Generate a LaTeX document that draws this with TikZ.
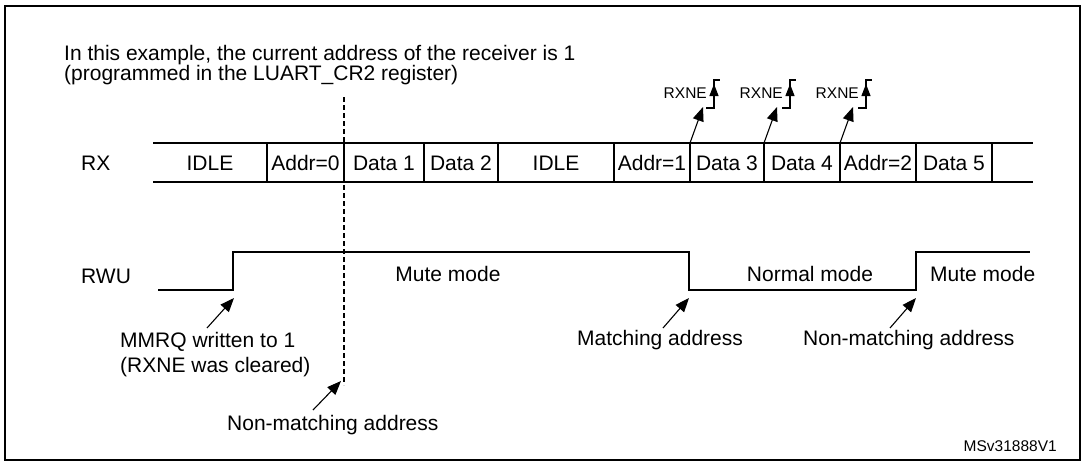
\documentclass[tikz,border=0pt]{standalone}
\usepackage{fontspec}
\setmainfont{Liberation Sans}
\usetikzlibrary{arrows.meta}
\begin{document}
\begin{tikzpicture}[x=1pt,y=-1pt,
  sig/.style={line width=1.3pt},
  arr/.style={line width=1.1pt,-{Triangle[length=14pt,width=11pt]}},
  lbl/.style={font=\fontsize{21}{25}\selectfont,inner sep=0pt},
  sml/.style={font=\fontsize{15.5}{18}\selectfont,inner sep=0pt}]
\useasboundingbox (0,0) rectangle (1085,464);
\draw[line width=2pt] (5,6) rectangle (1080,460);
\node[lbl,anchor=west] (t1) at (64,55) {In this example, the current address of the receiver is 1};
\node[lbl,anchor=west] (t2) at (64,75) {(programmed in the LUART\_CR2 register)};
% RX bus
\node[lbl,anchor=west] (rx) at (81,163) {RX};
\draw[sig] (153,143) -- (1033,143) (153,182) -- (1033,182);
\foreach \x in {267,344,424,498,614,690,764,840,916,992} \draw[sig] (\x,143) -- (\x,182);
\foreach \a/\b/\t/\n in {153/267/IDLE/c1,267/344/Addr=0/c2,344/424/Data 1/c3,424/498/Data 2/c4,498/614/IDLE/c5,614/690/Addr=1/c6,690/764/Data 3/c7,764/840/Data 4/c8,840/916/Addr=2/c9,916/992/Data 5/c10}
  \node[lbl] (\n) at ({(\a+\b)/2},163) {\t};
\draw[line width=1.1pt,dash pattern=on 5pt off 3pt] (344,97) -- (344,385);
% RXNE
\foreach \t/\x/\i in {690/714/1,764/790/2,840/866/3}{
  \node[sml,anchor=east] (rxne\i) at (\x-7,93) {RXNE};
  \draw[line width=1.1pt] (\x-8,108) -- (\x,108) -- (\x,80) -- (\x+6,80);
  \draw[line width=1.1pt,-{Triangle[length=12pt,width=9pt]}] (\x,106) -- (\x,84);
  \coordinate (tl\i) at (\t,143);
  \coordinate (tp\i) at (\t+13,107);
  \draw[arr] (tl\i) -- (tp\i);
}
% RWU
\node[lbl,anchor=west] (rwu) at (81,276) {RWU};
\draw[sig] (158,290) -- (233,290) -- (233,252) -- (689,252) -- (689,290) -- (916,290) -- (916,252) -- (1030,252);
\node[lbl] (m1) at (448,274) {Mute mode};
\node[lbl] (nm) at (810,274) {Normal mode};
\node[lbl,anchor=west] (m2) at (930,274) {Mute mode};
% annotations
\node[lbl,anchor=west] (a1) at (120,342) {MMRQ written to 1};
\node[lbl,anchor=west] (a1b) at (120,367) {(RXNE was cleared)};
\draw[arr] (207,328) -- (234,298);
\node[lbl,anchor=west] (a2) at (227,425) {Non-matching address};
\draw[arr] (313,410) -- (341,381);
\node[lbl,anchor=west] (a3) at (577,340) {Matching address};
\draw[arr] (663,328) -- (689,298);
\node[lbl,anchor=west] (a4) at (803,340) {Non-matching address};
\draw[arr] (890,328) -- (916,298);
\node[sml,anchor=east] (id) at (1057,446) {MSv31888V1};
\end{tikzpicture}
\end{document}
